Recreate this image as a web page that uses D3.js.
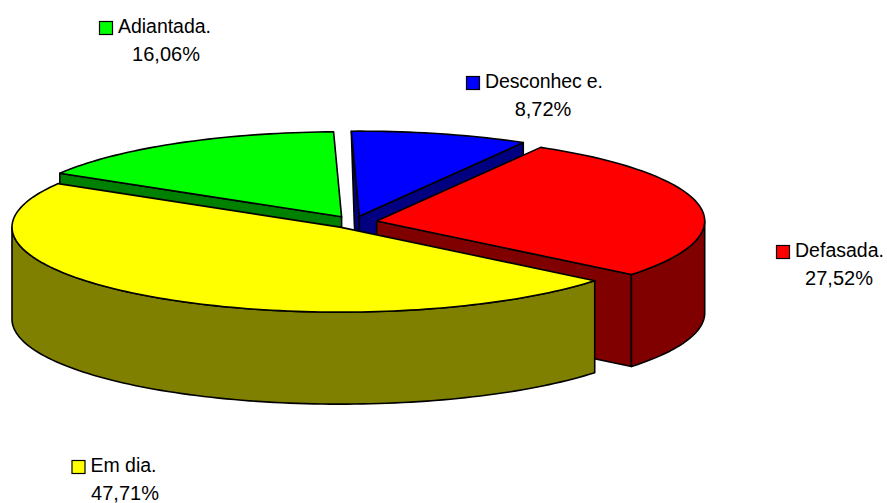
<!DOCTYPE html>
<html>
<head>
<meta charset="utf-8">
<script src="https://cdn.jsdelivr.net/npm/d3@7"></script>
<style>
    html, body { margin: 0; padding: 0; background: #fff; }
    text { font-family: "Liberation Sans", Arial, sans-serif; font-size: 19.5px; fill: #000; }
    .share { font-size: 20px; }
</style>
</head>
<body>
<div id="chart"></div>
<script>
// clockwise from the top, same order as the slices in the picture
var categories = ["Desconhec e.", "Defasada.", "Em dia.", "Adiantada."];
var shares = [8.72, 27.52, 47.71, 16.06];
var shareLabels = ["8,72%", "27,52%", "47,71%", "16,06%"];
var topColors = ["#0000ff", "#ff0000", "#ffff00", "#00ff00"];
var sideColors = ["#000080", "#800000", "#808000", "#008000"];

var width = 887;
var height = 503;
var centerX = 353.5;
var centerY = 222.1;
var radiusX = 328;
var radiusY = 85;
var depth = 92;
var explode = 23.6 / 328;   // in units of the radius

var svg = d3.select("#chart").append("svg")
    .attr("width", width)
    .attr("height", height);

// flat disc coordinates -1..1 to screen
var xScale = d3.scaleLinear().domain([-1, 1]).range([centerX - radiusX, centerX + radiusX]);
var yScale = d3.scaleLinear().domain([-1, 1]).range([centerY - radiusY, centerY + radiusY]);

var pie = d3.pie().sort(null)
    .startAngle(-1.4 * Math.PI / 180)
    .endAngle((360 - 1.4) * Math.PI / 180);
var slices = pie(shares);

function point(d, angle, r, drop) {
    var mid = (d.startAngle + d.endAngle) / 2;
    return [
        xScale(Math.sin(angle) * r + Math.sin(mid) * explode),
        yScale(-Math.cos(angle) * r - Math.cos(mid) * explode) + (drop || 0)
    ];
}

function arcAngles(from, to) {
    var n = Math.max(2, Math.ceil((to - from) * 40));
    var angles = d3.range(n).map(function(i) { return from + (to - from) * i / n; });
    angles.push(to);
    return angles;
}

var line = d3.line();

function addShape(points, fill) {
    svg.append("path")
        .attr("d", line(points) + "Z")
        .attr("fill", fill)
        .attr("stroke", "#000")
        .attr("stroke-width", 1.6)
        .attr("stroke-linejoin", "round");
}

function addCutFace(d, angle, fill) {
    var rimBottom = point(d, angle, 1, depth);
    // the bottom of a far corner sits a little towards the middle
    if (Math.cos(angle) > 0.9) { rimBottom[0] += 3; }
    addShape([
        point(d, angle, 1),
        point(d, angle, 0),
        point(d, angle, 0, depth),
        rimBottom
    ], fill);
}

function drawSlice(i) {
    var d = slices[i];
    var a0 = d.startAngle;
    var a1 = d.endAngle;

    // cut faces that look towards the viewer
    if (Math.sin(a0) < 0) { addCutFace(d, a0, sideColors[i]); }
    if (Math.sin(a1) > 0) { addCutFace(d, a1, sideColors[i]); }

    // outer wall, only the front half of the rim shows
    var from = Math.max(a0, Math.PI / 2);
    var to = Math.min(a1, 3 * Math.PI / 2);
    if (to > from) {
        var rim = arcAngles(from, to);
        var upper = rim.map(function(a) { return point(d, a, 1); });
        var lower = rim.map(function(a) { return point(d, a, 1, depth); }).reverse();
        addShape(upper.concat(lower), sideColors[i]);
    }

    // top
    var top = arcAngles(a0, a1).map(function(a) { return point(d, a, 1); });
    top.push(point(d, a0, 0));
    addShape(top, topColors[i]);
}

// back slices first so the yellow one ends up in front
[3, 0, 1, 2].forEach(drawSlice);

// data labels, key and name on one line and the share below it
var shareX = [543, 839, 125, 166];
var labelY = [88, 257, 472, 33];
var keyX = [466.5, 776.5, 72, 99.5];
var nameLength = [118, 89, 66, 93];

categories.forEach(function(name, i) {
    var g = svg.append("g");
    g.append("rect")
        .attr("x", keyX[i])
        .attr("y", labelY[i] - 11.5)
        .attr("width", 13)
        .attr("height", 13)
        .attr("fill", topColors[i])
        .attr("stroke", "#000")
        .attr("stroke-width", 1.2);
    g.append("text")
        .attr("x", keyX[i] + 18.5)
        .attr("y", labelY[i])
        .attr("textLength", nameLength[i])
        .attr("lengthAdjust", "spacing")
        .text(name);
    g.append("text")
        .attr("class", "share")
        .attr("x", shareX[i])
        .attr("y", labelY[i] + 27.5)
        .attr("text-anchor", "middle")
        .text(shareLabels[i]);
});
</script>
</body>
</html>
